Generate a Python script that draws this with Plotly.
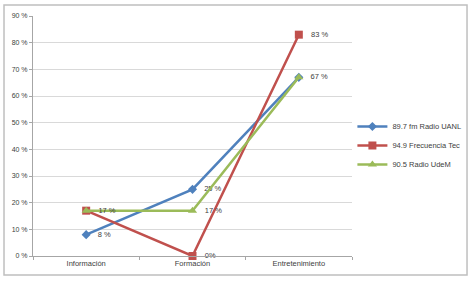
import plotly.graph_objects as go

categories = ["Información", "Formación", "Entretenimiento"]
uanl = [8, 25, 67]
tec = [17, 0, 83]
udem = [17, 17, 67]
uanl_labels = ["8 %", "25 %", "67 %"]
tec_labels = ["", "0%", "83 %"]
udem_labels = ["17 %", "17 %", ""]
y_ticks = [0, 10, 20, 30, 40, 50, 60, 70, 80, 90]
y_tick_labels = ["0 %", "10 %", "20 %", "30 %", "40 %", "50 %", "60 %", "70 %", "80 %", "90 %"]

font = "Liberation Sans"
fig = go.Figure()
series = [
    ("89.7 fm Radio UANL", uanl, uanl_labels, "#4F81BD", "diamond", 7),
    ("94.9 Frecuencia Tec", tec, tec_labels, "#C0504D", "square", 8),
    ("90.5 Radio UdeM", udem, udem_labels, "#9BBB59", "triangle-up", 8),
]
for name, vals, labels, color, sym, ms in series:
    fig.add_trace(go.Scatter(
        x=categories, y=vals, name=name, mode="lines+markers+text",
        text=["   " + t if t else "" for t in labels], textposition="middle right",
        textfont=dict(family=font, size=7.5, color="#404040"),
        line=dict(color=color, width=2.5),
        marker=dict(symbol=sym, size=ms, color=color),
        cliponaxis=False,
    ))

# outer chart border
fig.add_shape(type="rect", xref="paper", yref="paper",
              x0=-0.0659, x1=0.9864, y0=-0.079, y1=1.0458,
              line=dict(color="#BFBFBF", width=1.5), layer="below")

fig.update_layout(
    width=473, height=282,
    margin=dict(l=33, r=0, t=16, b=26),
    paper_bgcolor="white", plot_bgcolor="white",
    font=dict(family=font, size=7, color="#404040"),
    showlegend=True,
    legend=dict(x=0.985, y=0.6, xanchor="right", yanchor="top",
                font=dict(family=font, size=7.5, color="#404040"),
                bgcolor="rgba(0,0,0,0)", itemwidth=30, tracegroupgap=2),
    xaxis=dict(type="category", range=[-0.5, 2.5], tickson="boundaries",
               domain=[0, 0.725],
               showgrid=False, showline=True, linecolor="#A6A6A6", linewidth=1,
               ticks="outside", ticklen=3, tickcolor="#A6A6A6",
               tickfont=dict(family=font, size=7.5, color="#404040")),
    yaxis=dict(range=[0, 90], tickvals=y_ticks, ticktext=y_tick_labels,
               showgrid=True, gridcolor="#D9D9D9", gridwidth=1,
               showline=True, linecolor="#A6A6A6", linewidth=1,
               ticks="outside", ticklen=3, tickcolor="#A6A6A6",
               zeroline=False,
               tickfont=dict(family=font, size=7, color="#404040")),
)

fig.write_html("out.html", config={"displayModeBar": False},
               post_script="document.body.style.margin='0';")
